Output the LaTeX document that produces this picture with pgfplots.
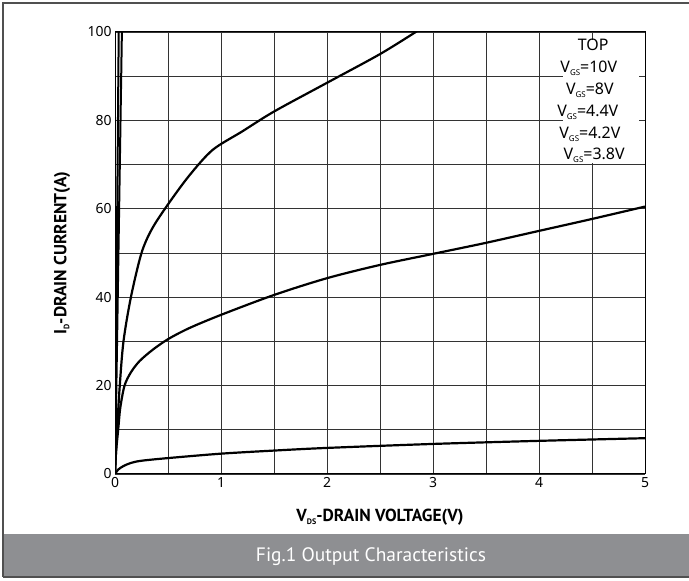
\documentclass[border=0pt]{standalone}
\usepackage{fontspec}
\setmainfont{Noto Sans}
\newfontfamily\labfont{PT Sans}
\usepackage{pgfplots}
\pgfplotsset{compat=1.18}
\definecolor{capgray}{HTML}{8E8F92}
\definecolor{framegray}{HTML}{505050}
\newcommand{\sub}[1]{\raisebox{-0.35ex}{\fontsize{8}{8}\selectfont #1}}
\newcommand{\lsub}[1]{\raisebox{-0.35ex}{\fontsize{8}{8}\selectfont #1}}
\begin{document}
\begin{tikzpicture}[x=1bp,y=1bp]
\useasboundingbox (0,0) rectangle (689,581);
% frame and caption bar
\fill[capgray] (4,4) rectangle (689,47);
\draw[framegray,line width=1.5bp] (3,4) -- (3,578) -- (689,578);
\draw[framegray,line width=1.5bp] (3,4) -- (689,4);
\node[text=white,font=\labfont\fontsize{19.5}{22}\selectfont] at (371,24) {Fig.1 Output Characteristics};
\begin{axis}[
  at={(115bp,107bp)}, anchor=south west,
  scale only axis, width=530bp, height=442bp,
  xmin=0, xmax=5, ymin=0, ymax=100,
  xtick={0,1,2,3,4,5}, ytick={0,20,40,60,80,100},
  minor xtick={0.5,1.5,2.5,3.5,4.5},
  minor ytick={10,30,50,70,90},
  grid=both,
  major grid style={black!80,line width=0.7bp},
  minor grid style={black!80,line width=0.7bp},
  major tick length=0pt, minor tick length=0pt,
  axis line style={black,line width=1bp},
  tick label style={font=\fontsize{14}{16}\selectfont},
  /pgf/number format/assume math mode=true,
  xlabel={\labfont\bfseries V\sub{DS}-DRAIN VOLTAGE(V)},
  ylabel={\labfont\bfseries I\sub{D}-DRAIN CURRENT(A)},
  label style={font=\fontsize{17.5}{19}\selectfont},
  xlabel style={at={(axis description cs:0.5,-0.0973)},anchor=center},
  ylabel style={at={(axis description cs:-0.1,0.5)},anchor=center},
  clip=true,
]
% VGS=10V
\addplot[black,line width=2bp] coordinates {(0,0) (0.035,100)};
% VGS=8V
\addplot[black,line width=2bp] coordinates {(0,0) (0.065,100)};
% VGS=4.4V
\addplot[black,line width=2.2bp,smooth,tension=0.5] coordinates {
(0,0) (0.02,10) (0.045,20) (0.08,30) (0.15,40) (0.25,50) (0.35,55.5) (0.5,61) (0.7,67.5) (0.92,73.3) (1.2,77.5) (1.5,82) (2,88.5) (2.5,95) (2.85,100.2)};
% VGS=4.2V
\addplot[black,line width=2.2bp,smooth,tension=0.5] coordinates {
(0,0) (0.01,5) (0.03,10) (0.05,15) (0.09,20) (0.15,23) (0.23,25.5) (0.35,28) (0.5,30.5) (0.7,33) (1,36) (1.5,40.5) (2,44.3) (2.5,47.3) (3,49.8) (3.5,52.3) (4,55) (4.5,57.7) (5,60.5)};
% VGS=3.8V
\addplot[black,line width=2.2bp,smooth,tension=0.5] coordinates {
(0,0) (0.03,1) (0.08,1.8) (0.15,2.5) (0.25,3) (0.5,3.6) (1,4.6) (1.5,5.3) (2,5.9) (3,6.8) (4,7.5) (5,8.1)};
% legend block
\fill[white] (axis cs:4.226,70.4) rectangle (axis cs:4.943,98.2);
\begin{scope}[every node/.style={font=\fontsize{16}{18}\selectfont,inner sep=0pt}]
\node at (axis cs:4.51,97.1) {TOP};
\node at (axis cs:4.47,91.9) {V\lsub{GS}=10V};
\node at (axis cs:4.48,86.9) {V\lsub{GS}=8V};
\node at (axis cs:4.46,81.9) {V\lsub{GS}=4.4V};
\node at (axis cs:4.48,76.9) {V\lsub{GS}=4.2V};
\node at (axis cs:4.52,72.2) {V\lsub{GS}=3.8V};
\end{scope}
\end{axis}
\end{tikzpicture}
\end{document}
